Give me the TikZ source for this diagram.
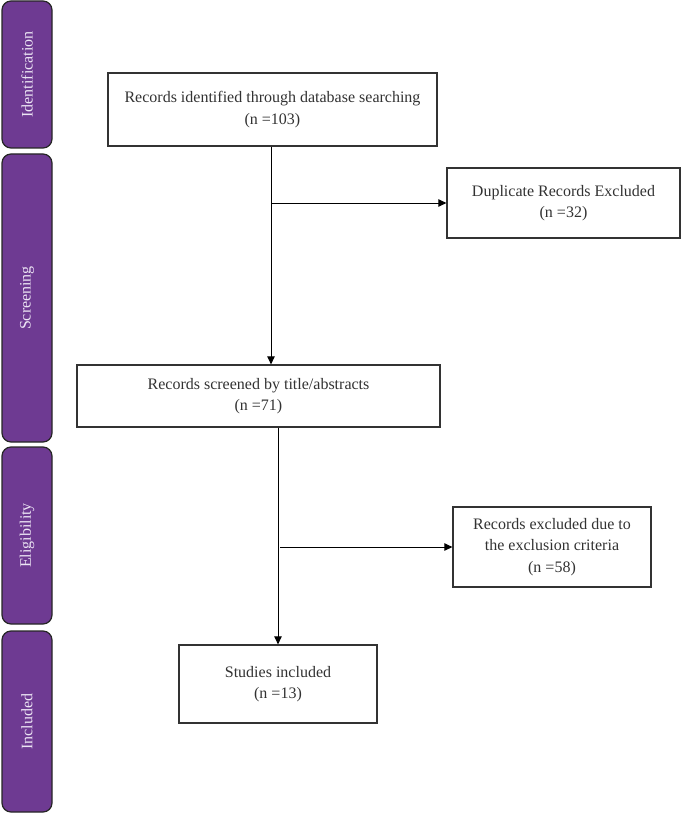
\documentclass[tikz,border=0pt]{standalone}
\usepackage{fontspec}
\setmainfont{Liberation Serif}
\usepackage{tikz}
\usetikzlibrary{arrows.meta,positioning}
\usetikzlibrary{calc}
\definecolor{phasepurple}{RGB}{110,58,146}
\definecolor{phasetext}{RGB}{236,228,244}
\definecolor{boxtext}{RGB}{50,50,50}
\tikzset{
	%Define standard arrow tip
	>={Triangle[length=8pt,width=7.5pt]},
	%Define style for the phase bars
	phase/.style={
		rectangle,
		rounded corners=9pt,
		draw=black!85, line width=1.2pt,
		fill=phasepurple,
		text=phasetext,
		rotate=90,
		minimum height=50pt,
		inner sep=0pt,
		font=\fontsize{16}{20}\selectfont},
	%Define style for boxes
	recbox/.style={
		rectangle,
		draw=black!80, line width=1.3pt,
		text=boxtext,
		align=center,
		inner sep=0pt,
		font=\fontsize{16}{21.5}\selectfont},
	% Define arrow style
	pil/.style={
		->,
		line width=1pt}
}

\begin{document}
\begin{tikzpicture}[x=1pt,y=-1pt]
	\useasboundingbox (0,0) rectangle (682,813);
	% phase bars
	\node[phase, minimum width=147pt] (bident) at (27,74.5) {Identification};
	\node[phase, minimum width=288pt] (bscreen) at (27,298) {Screening};
	\node[phase, minimum width=177pt] (belig) at (27,535.5) {Eligibility};
	\node[phase, minimum width=181pt] (bincl) at (27,721.5) {Included};
	% node Identified
	\node[recbox, minimum width=329pt, minimum height=73pt] (ident) at (272.5,109.5) {Records identified through database searching\\(n =103)};
	% node Duplicates
	\node[recbox, minimum width=233pt, minimum height=70pt] (dupl) at (563.5,203) {Duplicate Records Excluded\\(n =32)};
	% node Screened
	\node[recbox, minimum width=363pt, minimum height=62pt] (screen) at (258.5,396) {Records screened by title/abstracts\\(n =71)};
	% node Excluded
	\node[recbox, minimum width=198pt, minimum height=80pt] (excl) at (552,547) {Records excluded due to\\the exclusion criteria\\(n =58)};
	% node Included
	\node[recbox, minimum width=198pt, minimum height=78pt] (incl) at (278,684) {Studies included\\(n =13)};
	\coordinate (split1) at ($(ident.south)+(-1.5,0)$);
	\coordinate (split2) at (incl.north |- screen.south);
	\draw[pil]   (split1) -- (split1 |- screen.north);
	\draw[pil]   (split1 |- dupl.west) -- (dupl.west);
	\draw[pil]   (split2) -- (incl.north);
	\draw[pil]   ($(split2 |- excl.west)+(2,0)$) -- (excl.west);
\end{tikzpicture}
\end{document}
